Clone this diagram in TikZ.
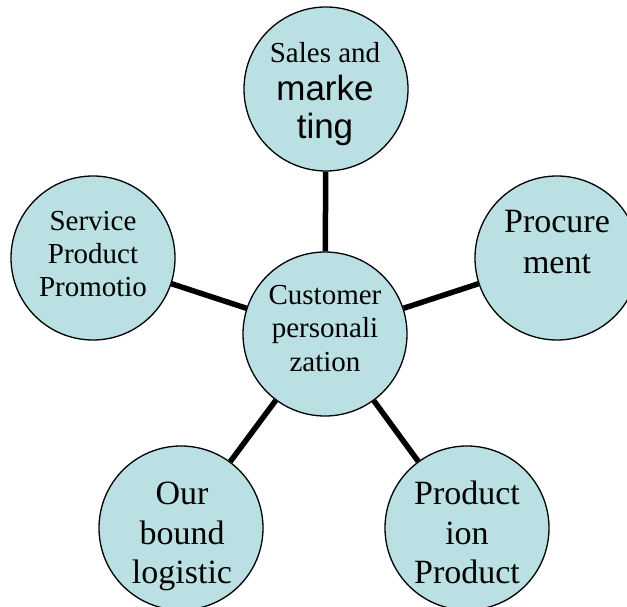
\documentclass[tikz,border=0pt]{standalone}
\usepackage{fontspec}
\setmainfont{Liberation Serif}
\newfontfamily\arialf{Liberation Sans}
\definecolor{bubble}{RGB}{186,224,228}
\tikzset{
  bubble/.style={circle, draw=black, line width=1.3pt, fill=bubble, minimum size=164pt, inner sep=0pt},
  spoke/.style={line width=5.5pt},
  txtA/.style={anchor=base, inner sep=0pt, font=\fontsize{29}{33}\selectfont},
  txtB/.style={anchor=base, inner sep=0pt, font=\fontsize{34}{40}\selectfont},
  txtS/.style={anchor=base, inner sep=0pt, font=\arialf\fontsize{35}{38}\selectfont}
}
\begin{document}
\begin{tikzpicture}[x=1pt,y=-1pt]
\useasboundingbox (0,0) rectangle (627,607);
\node[bubble] (sales) at (326,89) {};
\node[bubble] (svc) at (93,258) {};
\node[bubble] (proc) at (557,258) {};
\node[bubble] (cust) at (325,334) {};
\node[bubble] (ob) at (181,528) {};
\node[bubble] (prod) at (467,528) {};
\draw[spoke] (cust) -- (sales);
\draw[spoke] (cust) -- (svc);
\draw[spoke] (cust) -- (proc);
\draw[spoke] (cust) -- (ob);
\draw[spoke] (cust) -- (prod);
% texts
\node[txtA] (t1) at (325,63) {Sales and};
\node[txtS] (t2) at (325,101) {marke};
\node[txtS] (t3) at (325,139) {ting};
\node[txtA] (t4) at (93,230) {Service};
\node[txtA] (t5) at (93,263) {Product};
\node[txtA] (t6) at (93,296) {Promotio};
\node[txtA] (t7) at (325,304) {Customer};
\node[txtA] (t8) at (325,337) {personali};
\node[txtA] (t9) at (325,371) {zation};
\node[txtB] (t10) at (557,233) {Procure};
\node[txtB] (t11) at (557,273) {ment};
\node[txtB] (t12) at (182,504) {Our};
\node[txtB] (t13) at (182,544) {bound};
\node[txtB] (t14) at (182,583) {logistic};
\node[txtB] (t15) at (467,504) {Product};
\node[txtB] (t16) at (467,544) {ion};
\node[txtB] (t17) at (467,583) {Product};
\end{tikzpicture}
\end{document}
